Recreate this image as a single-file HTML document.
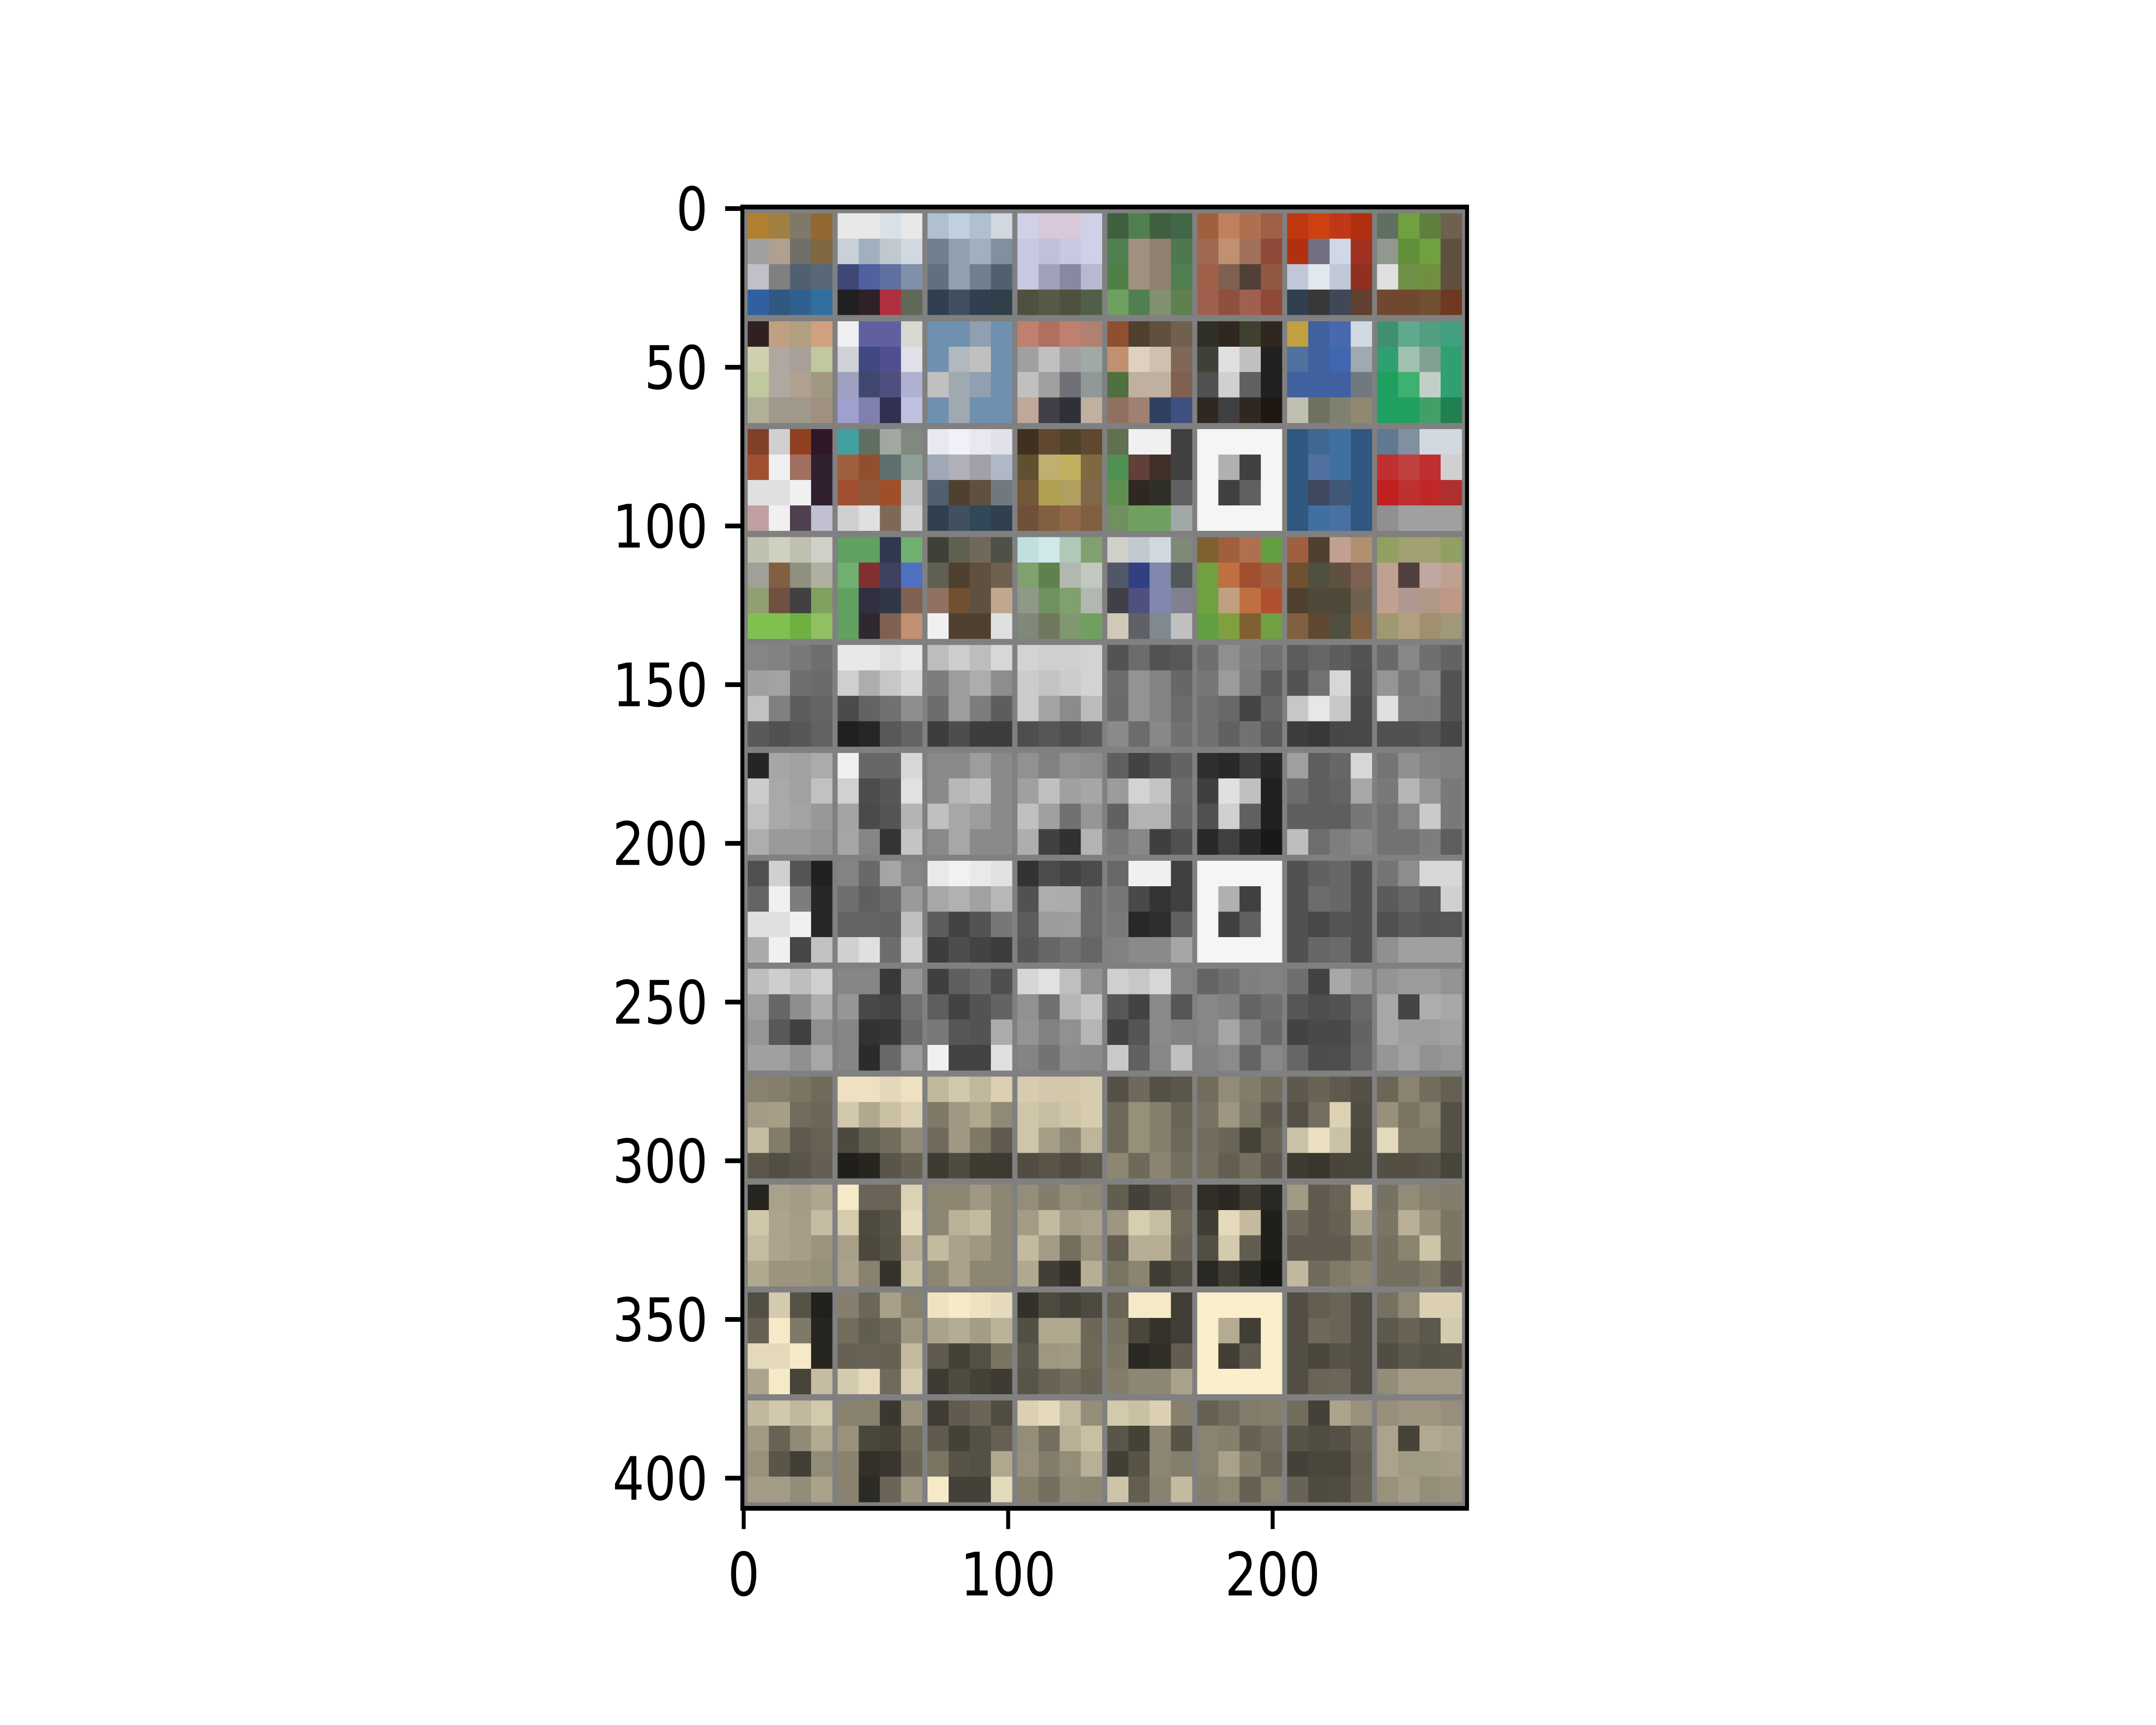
<!DOCTYPE html>
<html><head><meta charset="utf-8"><title>Image grid</title>
<style>html,body{margin:0;padding:0;background:#fff;width:100%;height:100%;overflow:hidden}svg{display:block;width:100vw;height:100vh}text{font-family:"DejaVu Sans","Liberation Sans",sans-serif;font-size:139px;fill:#000}</style>
</head><body>
<svg id="chart" xmlns="http://www.w3.org/2000/svg" viewBox="0 0 6000 4000" preserveAspectRatio="none">
<rect x="0" y="0" width="6000" height="4000" fill="#fff"/>
<g id="tiles" shape-rendering="crispEdges"></g>
<g id="axes"></g>
</svg>
<script>
// 32 base images as coarse 4x4 colour grids (row-major)
const images = [
"b08030 a08040 807868 906830 a0a0a0 b0a090 707068 806840 c0c0c8 808080 506070 586878 3060a0 305880 306090 3070a0",
"e8e8e8 e8e8e8 d8e0e8 e8e8e8 c8d0d8 a0b0c0 c0c8d0 d0d8e0 404878 5060a0 6070a0 8090a8 202020 302028 b03040 606858",
"b0c0d0 c0d0e0 b0c0d0 d0d8e0 708090 90a0b0 a0b0c0 8090a0 607080 90a0b0 708090 506070 304050 405060 304050 304048",
"d0d0e8 d8c8d8 d8c8d8 d0d0e8 c8c8e0 c0c0d8 c8c8e0 d0d0e8 c8c8e0 a0a0b8 8888a0 b8b8d0 505040 585848 505040 506048",
"406040 508050 406040 406848 508050 a09080 908070 507850 508048 a09080 908070 508050 70a060 508050 809070 608050",
"a06040 c08060 b07050 a06048 a06850 c09070 a07058 904838 a06048 806050 504038 905840 a06050 905040 a06050 904838",
"c03810 d04010 c03818 b03010 b03010 707080 d0d8e8 a03020 c0c8d8 e0e8f0 c0c8d8 903020 304050 383838 404858 604030",
"607060 70a040 608040 706050 909890 609038 70a040 605040 e0e0e0 709048 709040 605040 704830 704830 705030 703820",
"302020 c0a080 b0a080 d0a080 d0d0b0 b0a8a0 a8a098 c0c8a0 c0c8a0 b0a8a0 b0a090 a09880 b0b098 a09888 a09888 a09080",
"f0f0f0 6060a0 6060a0 d8d8d0 d0d0d8 404880 505090 e0e0e8 a0a0c0 404870 505080 b0b0d0 a0a0d0 8080b0 303050 c0c0e0",
"7090b0 7090b0 90a0b0 7090b0 7090b0 b0b8c0 c0c0c0 7090b0 c0c0c0 a0a8b0 90a0b0 7090b0 7090b0 a0a8b0 7090b0 7090b0",
"c08070 b07060 c08070 b08070 a0a0a0 c0c0c0 a0a0a0 a0a8a8 c0c0c0 a0a0a0 707078 909898 c0a898 404048 303038 c0b0a0",
"905030 504030 605040 706050 c09070 e0d0c0 d0c0b0 806858 507040 c0b0a0 c0b0a0 806050 907060 a08070 304060 405080",
"303028 302820 404030 302820 404038 e0e0e0 c0c0c0 202020 505050 d0d0d0 606060 202020 302820 404040 302820 201810",
"c0a040 4060a0 4868b0 d0d8e0 5070a0 4060a0 4068b0 a0a8b0 4060a0 4060a0 4060a0 707880 c0c0b0 707060 808070 908870",
"409070 60a890 50a080 40a080 30a070 a0c0b0 80a090 30a070 20a060 40b070 c0d0c8 30a070 20a060 20a060 40a068 208050",
"804028 d0d0d0 904020 301828 a05030 f0f0f0 a07060 302030 e0e0e0 e0e0e0 f0f0f0 302030 c0a0a0 f0f0f0 504050 c0c0d0",
"40a0a0 607060 a0a8a0 808880 a06040 905030 607070 90a098 a05030 905838 a05028 c0c0c0 d0d0d0 e0e0e0 806858 d0d0d0",
"e8e8f0 f0f0f8 e8e8f0 e0e0e8 a0a8b8 b0b0b8 a0a0a8 b0b8c8 506070 504030 605040 707880 304050 405060 304858 304050",
"403020 604830 504028 604830 605030 c0b070 c0b060 806840 705838 b0a050 b0a060 806848 705038 806040 906848 806040",
"607050 f0f0f0 f0f0f0 404040 509050 604038 403028 404040 609050 302820 303028 606060 709060 70a060 70a060 a0a8a8",
"f4f6f4 f4f6f4 f4f6f4 f4f6f4 f4f6f4 b0b0b0 404040 f4f6f4 f4f6f4 404040 606060 f4f6f4 f4f6f4 f4f6f4 f4f6f4 f4f6f4",
"305880 406890 4070a0 305880 305880 5070a0 4070a0 305880 305880 404860 405878 305880 305880 4070a0 4870a0 305880",
"607890 8090a0 d0d8e0 d0d8e0 c03030 c04040 c03030 d0d0d0 c02020 c03030 c02828 b03030 909090 a0a0a0 a0a0a0 a0a0a0",
"c0c0b0 d0d0c0 c0c0b0 d0d0c8 a0a098 806040 909080 b0b0a0 90a070 705040 404040 80a060 80c050 80c050 70b040 90c060",
"60a060 60a060 303850 70b070 70b070 803030 404060 5070c0 60a060 303040 303848 806050 60a060 302830 806050 c09070",
"404038 606050 706858 505048 606050 504030 605040 706050 907060 705030 605040 c0a890 f0f0f0 504030 504030 e0e0e0",
"c0e0e0 d0e8e8 b0c8b8 80a070 80a070 608050 b0b8b0 c0c8c0 909888 709060 80a070 b0b8b0 808878 707860 809870 70a060",
"d0d0c8 c0c8d0 d0d8e0 808878 505868 304080 8088b0 505858 404048 505080 8088b0 808090 d0c8b8 606068 808890 c0c0c0",
"806030 a06040 b07050 60a040 70a040 c07040 a05030 a06040 70a040 c0a080 c07040 b05030 60a040 80a040 806030 70a040",
"a06040 504030 c0a090 b09070 705030 505040 605040 806050 504030 504838 504838 706050 806040 604830 505040 806040",
"90a060 a0a070 a0a070 90a060 c0a090 504040 c0a8a0 c0a090 c0a090 b09890 b09888 c09888 a09870 b0a080 a09070 a09878"
];
const modes = ["color", "gray", "sepia"];
const yTicks = [0, 50, 100, 150, 200, 250, 300, 350, 400];
const xTicks = [0, 100, 200];
const nCols = 8, tile = 32, pad = 2;
const imgW = 274, imgH = 410;

const NS = "http://www.w3.org/2000/svg";
const X0 = 2066, Y0 = 480, S = 7.36;
const px = u => X0 + (u + 0.5) * S;
const py = v => Y0 + (v + 0.5) * S;

function conv(hex, mode) {
  let r = parseInt(hex.slice(0,2),16), g = parseInt(hex.slice(2,4),16), b = parseInt(hex.slice(4,6),16);
  if (mode === "color") return "#" + hex;
  const L = 0.299*r + 0.587*g + 0.114*b;
  if (mode === "gray") { const v = Math.round(L); return `rgb(${v},${v},${v})`; }
  return `rgb(${Math.round(Math.min(255,L*1.02))},${Math.round(L*0.97)},${Math.round(L*0.83)})`;
}
function mk(tag, attrs, parent) {
  const el = document.createElementNS(NS, tag);
  for (const k in attrs) el.setAttribute(k, attrs[k]);
  parent.appendChild(el);
  return el;
}
const tilesG = document.getElementById("tiles");
const axesG = document.getElementById("axes");

const bg = mk("rect", {x: px(-0.5), y: py(-0.5), width: imgW*S, height: imgH*S, fill: "#808080"}, tilesG);



const rowsPerMode = images.length / nCols;
modes.forEach((mode, mi) => {
  images.forEach((img, idx) => {
    const cells = img.split(" ");
    const r = mi*rowsPerMode + Math.floor(idx / nCols), c = idx % nCols;
    const ox = pad + c*(tile+pad), oy = pad + r*(tile+pad);
    const g = mk("g", {}, tilesG);
    
    
    const n = Math.sqrt(cells.length), cs = tile / n;
    cells.forEach((hex, k) => {
      const i = k % n, j = Math.floor(k / n);
      const x1 = px(ox + i*cs - 0.5), y1 = py(oy + j*cs - 0.5);
      const x2 = px(ox + (i+1)*cs - 0.5), y2 = py(oy + (j+1)*cs - 0.5);
      const rc = mk("rect", {x: x1, y: y1, width: x2-x1+0.5, height: y2-y1+0.5, fill: conv(hex, mode)}, g);
      
      
    });
  });
});

const frame = mk("rect", {x: px(-0.5), y: py(-0.5), width: imgW*S, height: imgH*S, fill: "none", stroke: "#000", "stroke-width": 11}, axesG);



const left = px(-0.5), bottom = py(imgH - 0.5);
yTicks.forEach(v => {
  const y = py(v);
  const t = mk("line", {x1: left, x2: left - 48, y1: y, y2: y, stroke: "#000", "stroke-width": 11}, axesG);
  
  
  const lb = mk("text", {x: left - 96, y: y + 50, "text-anchor": "end"}, axesG);
  lb.textContent = String(v);
  
  
});
xTicks.forEach(u => {
  const x = px(u);
  const t = mk("line", {x1: x, x2: x, y1: bottom, y2: bottom + 48, stroke: "#000", "stroke-width": 11}, axesG);
  
  
  const lb = mk("text", {x: x, y: bottom + 202, "text-anchor": "middle"}, axesG);
  lb.textContent = String(u);
  
  
});
</script>
</body></html>
